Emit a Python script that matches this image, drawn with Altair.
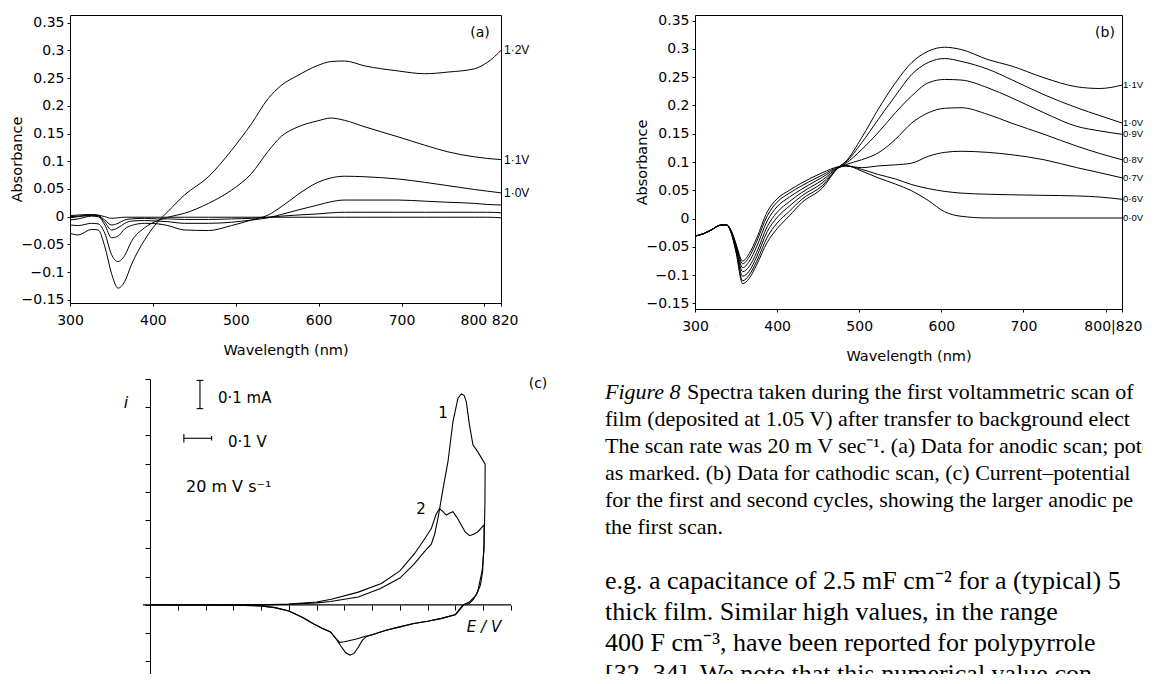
import altair as alt
import pandas as pd

# ---------------- Panel (a): anodic scan spectra ----------------
WL_A = [300, 310, 326, 334, 342, 350, 358, 366, 374, 390, 406, 418, 438, 467, 495,
        519, 539, 555, 575, 599, 615, 631, 656, 696, 728, 756, 788, 804, 820]
A_12 = [-0.030, -0.033, -0.023, -0.024, -0.054, -0.102, -0.129, -0.117, -0.087, -0.042,
        -0.009, 0.009, 0.039, 0.072, 0.120, 0.168, 0.213, 0.237, 0.255, 0.273,
        0.280, 0.281, 0.272, 0.263, 0.258, 0.261, 0.267, 0.279, 0.300]
A_11 = [-0.015, -0.016, -0.012, -0.013, -0.030, -0.068, -0.081, -0.070, -0.045, -0.020,
        -0.007, -0.001, 0.006, 0.024, 0.048, 0.078, 0.118, 0.145, 0.162, 0.173,
        0.178, 0.174, 0.162, 0.144, 0.129, 0.117, 0.108, 0.105, 0.103]
A_10 = [-0.006, -0.004, 0.001, 0.000, -0.015, -0.038, -0.035, -0.022, -0.016, -0.012,
        -0.013, -0.016, -0.024, -0.025, -0.016, -0.006, 0.003, 0.018, 0.040, 0.062,
        0.070, 0.073, 0.072, 0.068, 0.062, 0.056, 0.049, 0.046, 0.043]
A_09 = [-0.002, 0.000, 0.002, 0.001, -0.010, -0.024, -0.020, -0.012, -0.008, -0.007,
        -0.008, -0.009, -0.012, -0.012, -0.010, -0.006, -0.002, 0.004, 0.012, 0.021,
        0.027, 0.030, 0.030, 0.030, 0.028, 0.026, 0.024, 0.022, 0.021]
A_08 = [0.000, 0.001, 0.003, 0.002, -0.006, -0.015, -0.012, -0.006, -0.004, -0.003,
        -0.004, -0.004, -0.005, -0.005, -0.004, -0.003, -0.001, 0.001, 0.003, 0.005,
        0.007, 0.008, 0.008, 0.008, 0.008, 0.008, 0.008, 0.008, 0.007]
A_07 = [0.002, 0.003, 0.004, 0.003, 0.000, -0.003, -0.002, -0.001, -0.001, -0.001,
        -0.001, -0.001, -0.001, -0.001, -0.001, -0.001, -0.001, -0.001, -0.001, -0.001,
        -0.001, -0.001, -0.001, -0.001, -0.001, -0.001, -0.001, -0.001, -0.002]
A_NAMES = ["1.2V", "1.1V", "1.0V", "a4", "a5", "a6"]
A_LABELS = ["1·2V", "1·1V", "1·0V", "", "", ""]

# ---------------- Panel (b): cathodic scan spectra ----------------
WL_B = [300, 310, 320, 330, 338, 345, 350, 358, 366, 375, 388, 400, 415, 430, 455, 475,
        483, 503, 523, 544, 564, 584, 604, 624, 657, 685, 725, 765, 793, 820]
B_11 = [-0.031, -0.027, -0.020, -0.012, -0.011, -0.030, -0.060, -0.115, -0.106, -0.082,
        -0.042, -0.018, 0.005, 0.028, 0.054, 0.091, 0.100, 0.143, 0.193, 0.240, 0.276,
        0.296, 0.303, 0.299, 0.281, 0.270, 0.249, 0.233, 0.230, 0.236]
B_10 = [-0.031, -0.027, -0.020, -0.012, -0.011, -0.029, -0.058, -0.110, -0.100, -0.076,
        -0.033, -0.008, 0.013, 0.034, 0.058, 0.091, 0.099, 0.134, 0.175, 0.217, 0.255,
        0.276, 0.283, 0.278, 0.264, 0.246, 0.219, 0.196, 0.182, 0.169]
B_09 = [-0.031, -0.027, -0.020, -0.012, -0.011, -0.028, -0.055, -0.102, -0.093, -0.068,
        -0.023, 0.002, 0.022, 0.040, 0.063, 0.090, 0.097, 0.122, 0.152, 0.187, 0.217,
        0.240, 0.246, 0.245, 0.231, 0.214, 0.187, 0.163, 0.155, 0.149]
B_08 = [-0.031, -0.027, -0.020, -0.012, -0.011, -0.027, -0.052, -0.094, -0.085, -0.060,
        -0.014, 0.011, 0.030, 0.046, 0.068, 0.090, 0.095, 0.104, 0.116, 0.140, 0.169,
        0.187, 0.195, 0.196, 0.184, 0.169, 0.149, 0.128, 0.115, 0.104]
B_07 = [-0.031, -0.027, -0.020, -0.012, -0.011, -0.026, -0.050, -0.087, -0.076, -0.050,
        -0.004, 0.021, 0.038, 0.052, 0.073, 0.090, 0.093, 0.090, 0.093, 0.095, 0.098,
        0.110, 0.117, 0.119, 0.117, 0.113, 0.104, 0.090, 0.081, 0.072]
B_06 = [-0.031, -0.027, -0.020, -0.012, -0.011, -0.025, -0.047, -0.080, -0.068, -0.041,
        0.005, 0.029, 0.045, 0.058, 0.077, 0.091, 0.093, 0.087, 0.078, 0.070, 0.060,
        0.053, 0.048, 0.045, 0.043, 0.042, 0.041, 0.040, 0.038, 0.034]
B_00 = [-0.031, -0.027, -0.020, -0.012, -0.011, -0.024, -0.045, -0.075, -0.062, -0.035,
        0.012, 0.035, 0.050, 0.063, 0.081, 0.092, 0.094, 0.084, 0.072, 0.061, 0.049,
        0.032, 0.012, 0.004, 0.001, 0.001, 0.001, 0.001, 0.001, 0.001]
B_NAMES = ["1.1V", "1.0V", "0.9V", "0.8V", "0.7V", "0.6V", "0.0V"]
B_LABELS = ["1·1V", "1·0V", "0·9V", "0·8V", "0·7V", "0·6V", "0·0V"]

ABS_TICKS = [-0.15, -0.1, -0.05, 0, 0.05, 0.1, 0.15, 0.2, 0.25, 0.3, 0.35]
WL_TICKS = [300, 400, 500, 600, 700, 800, 820]

# ---------------- Panel (c): cyclic voltammograms ----------------
CV1_E = [0.00, 0.30, 0.40, 0.50, 0.60, 0.65, 0.75, 0.83, 0.90, 0.95, 0.99, 1.013, 1.025,
         1.037, 1.055, 1.073, 1.091, 1.109, 1.121, 1.131, 1.139, 1.15, 1.163, 1.181, 1.207,
         1.206, 1.203, 1.198, 1.19, 1.175, 1.15, 1.127, 1.10, 1.05, 1.00, 0.95, 0.90,
         0.85, 0.80, 0.78, 0.765, 0.75, 0.735, 0.72, 0.705, 0.69, 0.67, 0.65, 0.62,
         0.59, 0.55, 0.50, 0.45, 0.40, 0.30, 0.00]
CV1_I = [0.0, 0.0, 0.0, 0.002, 0.007, 0.012, 0.028, 0.058, 0.095, 0.143, 0.19, 0.215, 0.25,
         0.306, 0.41, 0.507, 0.649, 0.732, 0.747, 0.742, 0.72, 0.64, 0.567, 0.541, 0.498,
         0.35, 0.22, 0.12, 0.07, 0.035, 0.01, 0.0, -0.034, -0.048, -0.058, -0.066, -0.078,
         -0.09, -0.106, -0.112, -0.125, -0.15, -0.172, -0.178, -0.17, -0.15, -0.12, -0.096,
         -0.083, -0.068, -0.045, -0.022, -0.010, -0.004, -0.001, 0.0]
CV2_E = [0.00, 0.30, 0.40, 0.50, 0.60, 0.653, 0.75, 0.833, 0.90, 0.953, 0.99, 1.013, 1.03,
         1.043, 1.055, 1.067, 1.08, 1.091, 1.105, 1.121, 1.135, 1.151, 1.165, 1.181, 1.203,
         1.203, 1.196, 1.19, 1.18, 1.165, 1.15, 1.13, 1.10, 1.05, 1.00, 0.95, 0.90, 0.85,
         0.80, 0.77, 0.74, 0.70, 0.683, 0.67, 0.65, 0.62, 0.59, 0.55, 0.50, 0.45, 0.40,
         0.30, 0.00]
CV2_I = [0.0, 0.0, 0.0, 0.003, 0.010, 0.020, 0.045, 0.0755, 0.12, 0.182, 0.235, 0.27, 0.32,
         0.341, 0.33, 0.318, 0.325, 0.33, 0.31, 0.283, 0.258, 0.245, 0.25, 0.259, 0.283,
         0.20, 0.12, 0.093, 0.046, 0.02, 0.005, 0.0, -0.035, -0.048, -0.058, -0.066, -0.078,
         -0.09, -0.106, -0.113, -0.122, -0.131, -0.133, -0.12, -0.096, -0.083, -0.068,
         -0.045, -0.022, -0.010, -0.004, -0.001, 0.0]
E_TICKS = [0.0, 0.1, 0.2, 0.3, 0.4, 0.5, 0.6, 0.7, 0.8, 0.9, 1.0, 1.1, 1.2, 1.3]
I_TICKS = [-0.2, -0.1, 0.0, 0.1, 0.2, 0.3, 0.4, 0.5, 0.6, 0.7, 0.8]
# zero line and scale bars (0.1 mA vertical, 0.1 V horizontal), in data units
SEG_E1 = [-0.025, 0.18, 0.168, 0.168, 0.122, 0.122, 0.222]
SEG_E2 = [1.30, 0.18, 0.192, 0.192, 0.222, 0.122, 0.222]
SEG_I1 = [0.0, 0.695, 0.795, 0.695, 0.59, 0.575, 0.582]
SEG_I2 = [0.0, 0.795, 0.795, 0.695, 0.59, 0.605, 0.598]

# ---------------- Text column ----------------
FIG_LABEL = "Figure 8"
CAPTION_LINES = [
    "Spectra taken during the first voltammetric scan of",
    "film (deposited at 1.05 V) after transfer to background elect",
    "The scan rate was 20 m V sec⁻¹. (a) Data for anodic scan; pote",
    "as marked. (b) Data for cathodic scan, (c) Current–potential",
    "for the first and second cycles, showing the larger anodic pe",
    "the first scan.",
]
BODY_LINES = [
    "e.g. a capacitance of 2.5 mF cm⁻² for a (typical) 5",
    "thick film. Similar high values, in the range",
    "400 F cm⁻³, have been reported for polypyrrole",
    "[32–34]. We note that this numerical value con",
]

SANS = "DejaVu Sans"
SERIF = "Liberation Serif"


def spectra_frame(wl, series, names, labels):
    rows = []
    for nm, vals in zip(names, series):
        for w, v in zip(wl, vals):
            rows.append({"wl": w, "absorb": v, "series": nm})
    ends = pd.DataFrame({"wl": [wl[-1]] * len(names),
                         "absorb": [s[-1] for s in series],
                         "label": labels})
    return pd.DataFrame(rows), ends


df_a, end_a = spectra_frame(WL_A, [A_12, A_11, A_10, A_09, A_08, A_07], A_NAMES, A_LABELS)
df_b, end_b = spectra_frame(WL_B, [B_11, B_10, B_09, B_08, B_07, B_06, B_00], B_NAMES, B_LABELS)


def abs_axis():
    return alt.Axis(values=ABS_TICKS, tickCount=40, format="~g", title="Absorbance",
                    domain=False, tickSize=3, labelPadding=3, labelFontSize=14,
                    labelOverlap=False, titleFontSize=14.5, titlePadding=-3, grid=False)


def wl_axis(expr, offset, align, pad):
    return alt.Axis(values=WL_TICKS, tickCount=40, format="d", title="Wavelength (nm)",
                    domain=False, tickSize=3, labelPadding=7, labelFontSize=14,
                    labelOverlap=False, labelFlush=False, titleFontSize=14.5,
                    titlePadding=pad, grid=False, labelExpr=expr,
                    labelAlign={"condition": {"test": "datum.value == 820", "value": align},
                                "value": "center"},
                    labelOffset={"condition": {"test": "datum.value == 820", "value": offset},
                                 "value": 0})


ax_wl_a = wl_axis("datum.value == 800 ? '' : (datum.value == 820 ? '800  820' : datum.label)",
                  -12, "center", 16)
ax_wl_b = wl_axis("datum.value == 800 ? '' : (datum.value == 820 ? '800|820' : datum.label)",
                  20, "right", 16)


def spectra_panel(df, ends, tag, domain_y, xaxis, width, height, lab_size, lab_dx):
    lines = alt.Chart(df).mark_line(color="black", strokeWidth=1, interpolate="monotone").encode(
        x=alt.X("wl:Q", scale=alt.Scale(domain=[300, 820], nice=False, zero=False), axis=xaxis),
        y=alt.Y("absorb:Q", scale=alt.Scale(domain=domain_y, nice=False, zero=False),
                axis=abs_axis()),
        detail="series:N",
    )
    labels = alt.Chart(ends).mark_text(align="left", baseline="middle", dx=lab_dx,
                                       font="Liberation Sans", fontSize=lab_size,
                                       color="black").encode(
        x="wl:Q", y="absorb:Q", text="label:N")
    tag_mark = alt.Chart(pd.DataFrame({"t": [tag]})).mark_text(
        font=SANS, fontSize=14, color="black").encode(
        x=alt.value(410), y=alt.value(18), text="t:N")
    return alt.layer(lines, labels, tag_mark).properties(width=width, height=height)


chart_a = spectra_panel(df_a, end_a, "(a)", [-0.1558, 0.364], ax_wl_a, 431, 288, 12, 3)
chart_b = spectra_panel(df_b, end_b, "(b)", [-0.160, 0.360], ax_wl_b, 427, 294, 9.5, 1)

# ---- panel (c)
cv_rows = []
for cyc, es, ii in (("1", CV1_E, CV1_I), ("2", CV2_E, CV2_I)):
    for k, (e, i) in enumerate(zip(es, ii)):
        cv_rows.append({"E": e, "I": i, "cycle": cyc, "k": k})
cv_df = pd.DataFrame(cv_rows)
seg_df = pd.DataFrame({"E": SEG_E1, "E2": SEG_E2, "I": SEG_I1, "I2": SEG_I2})

C_H = 295
x_c = alt.X("E:Q", scale=alt.Scale(domain=[-0.288, 1.3], nice=False, zero=False),
            axis=alt.Axis(values=E_TICKS, tickCount=40, labels=False, tickSize=5,
                          domain=False, offset=-69, title=None, grid=False))
y_c = alt.Y("I:Q", scale=alt.Scale(domain=[-0.245, 0.8], nice=False, zero=False),
            axis=alt.Axis(values=I_TICKS, tickCount=40, labels=False, tickSize=5,
                          domain=True, offset=-80, title=None, grid=False))

cv_lines = alt.Chart(cv_df).mark_line(color="black", strokeWidth=1.1).encode(
    x=x_c, y=y_c, detail="cycle:N", order="k:Q")
segs = alt.Chart(seg_df).mark_rule(color="black", strokeWidth=1.1).encode(
    x="E:Q", x2="E2:Q", y="I:Q", y2="I2:Q")


def label(text, x, y, size=14, style="normal", align="left", baseline="alphabetic", font=SANS):
    return alt.Chart(pd.DataFrame({"t": [text]})).mark_text(
        font=font, fontSize=size, fontStyle=style, align=align, baseline=baseline,
        color="black").encode(x=alt.value(x), y=alt.value(y), text="t:N")


c_texts = [
    label("i", 56, 29, size=16, style="italic", align="center"),
    label("0·1 mA", 148, 24, size=15),
    label("0·1 V", 158, 68, size=15),
    label("20 m V s⁻¹", 116, 113, size=16),
    label("1", 373, 39, size=15, align="center"),
    label("2", 351, 135, size=15, align="center"),
    label("E / V", 414, 253, size=15, style="italic", align="center"),
    label("(c)", 468, 9, size=14, align="center"),
]
chart_c = alt.layer(cv_lines, segs, *c_texts).properties(
    width=441, height=C_H, view=alt.ViewBackground(strokeOpacity=0))

# ---- text column
caption_df = pd.DataFrame({"line": list(range(len(CAPTION_LINES))), "text": CAPTION_LINES})
body_df = pd.DataFrame({"bline": list(range(len(BODY_LINES))), "text": BODY_LINES})
cap_y = alt.Y("line:Q", scale=alt.Scale(domain=[0, 5], range=[20, 155]), axis=None)

t_fig = alt.Chart(pd.DataFrame({"text": [FIG_LABEL]})).mark_text(
    font=SERIF, fontSize=22, fontStyle="italic", align="left", baseline="alphabetic",
    color="black", clip=True).encode(x=alt.value(0), y=alt.value(20), text="text:N")
t_cap0 = alt.Chart(caption_df).transform_filter("datum.line == 0").mark_text(
    font=SERIF, fontSize=22, align="left", baseline="alphabetic", color="black",
    clip=True).encode(x=alt.value(82), y=cap_y, text="text:N")
t_cap = alt.Chart(caption_df).transform_filter("datum.line > 0").mark_text(
    font=SERIF, fontSize=22, align="left", baseline="alphabetic", color="black",
    clip=True).encode(x=alt.value(0), y=cap_y, text="text:N")
t_body = alt.Chart(body_df).mark_text(
    font=SERIF, fontSize=26, align="left", baseline="alphabetic", color="black",
    clip=True).encode(
    x=alt.value(0),
    y=alt.Y("bline:Q", scale=alt.Scale(domain=[0, 3], range=[210, 303]), axis=None),
    text="text:N")
chart_t = alt.layer(t_fig, t_cap0, t_cap, t_body).resolve_scale(y="independent").properties(
    width=538, height=C_H, view=alt.ViewBackground(strokeOpacity=0))

top = alt.hconcat(chart_a, chart_b, spacing=194, bounds="flush")
bottom = alt.hconcat(chart_c, chart_t, spacing=94, bounds="flush")
chart = alt.vconcat(top, bottom, spacing=14).properties(
    padding={"left": 0, "top": 5, "right": 0, "bottom": 0},
    background="white",
).configure_view(stroke="black", strokeWidth=1).configure_axis(
    grid=False, labelFont=SANS, titleFont=SANS, labelColor="black", titleColor="black",
    tickColor="black", domainColor="black", titleFontWeight="normal"
)

chart.save("out.html", embed_options={"renderer": "svg", "actions": False})
